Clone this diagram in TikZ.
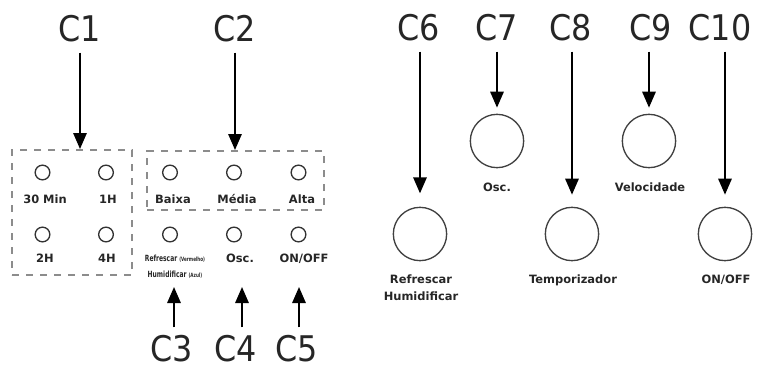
\documentclass[tikz,border=0pt]{standalone}
\usepackage{fontspec}
\usepackage{graphicx}
\setmainfont{DejaVu Sans}
\usetikzlibrary{arrows.meta,fit}
\newcommand{\cnar}[1]{\scalebox{0.9}[1]{#1}}
\begin{document}
\begin{tikzpicture}[x=0.75pt,y=-0.75pt,
  clab/.style={font=\fontsize{26.5}{30}\selectfont, text=black!85, inner sep=0pt},
  lab/.style={font=\bfseries\fontsize{8.6}{9}\selectfont, text=black!85, inner sep=0pt, anchor=base},
  tiny/.style={font=\bfseries\fontsize{6.4}{7}\selectfont, text=black!85, inner sep=0pt, anchor=base},
  sml/.style={circle, draw=black!80, line width=1pt, inner sep=0pt, minimum size=11pt},
  big/.style={circle, draw=black!75, line width=1pt, inner sep=0pt, minimum size=40pt},
  arr/.style={line width=1.5pt, -{Triangle[width=10pt,length=12pt]}},
  dbox/.style={draw=black!45, line width=1.5pt, dash pattern=on 5.5pt off 5pt, inner sep=0pt}]
\useasboundingbox (0,0) rectangle (758,371);

% dashed boxes
\node[dbox, fit={(12,150) (132,275)}] (box1) {};
\node[dbox, fit={(147,151) (324,210)}] (box2) {};

% small buttons
\node[sml] (b30) at (42.5,172.5) {};
\node[sml] (b1h) at (106,172.5) {};
\node[sml] (bbx) at (170,172.5) {};
\node[sml] (bmd) at (234,172.5) {};
\node[sml] (bal) at (298.5,172.5) {};
\node[sml] (b2h) at (42.5,234.5) {};
\node[sml] (b4h) at (106,234.5) {};
\node[sml] (brf) at (170,234.5) {};
\node[sml] (bos) at (234,234.5) {};
\node[sml] (bon) at (298.5,234.5) {};

\node[lab] (l30) at (45,203.5) {30 Min};
\node[lab] (l1h) at (108,203.5) {1H};
\node[lab] (lbx) at (173,203.5) {Baixa};
\node[lab] (lmd) at (237,203.5) {Média};
\node[lab] (lal) at (302,203.5) {Alta};
\node[lab] (l2h) at (45,262) {2H};
\node[lab] (l4h) at (107,262) {4H};
\node[lab] (los) at (240,262) {Osc.};
\node[lab] (lon) at (304,262) {ON/OFF};
\node[tiny] (lrf) at (175,261) {\scalebox{0.7}[1]{Refrescar {\fontsize{4.4}{5}\selectfont(Vermelho)}}};
\node[tiny] (lhu) at (175,277.5) {\scalebox{0.7}[1]{Humidificar {\fontsize{4.4}{5}\selectfont(Azul)}}};

% C labels left
\node[clab] (c1) at (80,29) {\cnar{C1}};
\node[clab] (c2) at (235,29) {\cnar{C2}};
\node[clab] (c3) at (172,349) {\cnar{C3}};
\node[clab] (c4) at (236,349) {\cnar{C4}};
\node[clab] (c5) at (297,349) {\cnar{C5}};

\draw[arr, shorten <=7.5pt] (c1.south) -- (c1.south |- box1.north);
\draw[arr, shorten <=7.5pt] (c2.south) -- (c2.south |- box2.north);
\coordinate (t3) at (174,287);
\coordinate (t4) at (242,287);
\coordinate (t5) at (299,287);
\draw[arr, shorten <=6pt] (c3.north -| t3) -- (t3);
\draw[arr, shorten <=6pt] (c4.north -| t4) -- (t4);
\draw[arr, shorten <=6pt] (c5.north -| t5) -- (t5);

% right side
\node[big] (r7) at (497,141) {};
\node[big] (r9) at (649,141) {};
\node[big] (r6) at (420,234) {};
\node[big] (r8) at (572,234) {};
\node[big] (r10) at (725,234) {};

\node[lab] (l7) at (497,191) {Osc.};
\node[lab] (l9) at (650,191) {Velocidade};
\node[lab] (l6) at (421,283.5) {Refrescar};
\node[lab] (l6b) at (421,300) {Humidificar};
\node[lab] (l8) at (573,283.5) {Temporizador};
\node[lab] (l10) at (726,283.5) {ON/OFF};

\node[clab] (c6) at (419,28) {\cnar{C6}};
\node[clab] (c7) at (497,28) {\cnar{C7}};
\node[clab] (c8) at (571,28) {\cnar{C8}};
\node[clab] (c9) at (651,28) {\cnar{C9}};
\node[clab] (c10) at (720,28) {\cnar{C10}};

\draw[arr, shorten <=7.5pt, shorten >=10pt] (c6.south -| r6) -- (r6.north);
\draw[arr, shorten <=7.5pt, shorten >=4.5pt] (c7.south -| r7) -- (r7.north);
\draw[arr, shorten <=7.5pt, shorten >=9pt] (c8.south -| r8) -- (r8.north);
\draw[arr, shorten <=7.5pt, shorten >=4.5pt] (c9.south -| r9) -- (r9.north);
\draw[arr, shorten <=7.5pt, shorten >=9pt] (c10.south -| r10) -- (r10.north);
\end{tikzpicture}
\end{document}
